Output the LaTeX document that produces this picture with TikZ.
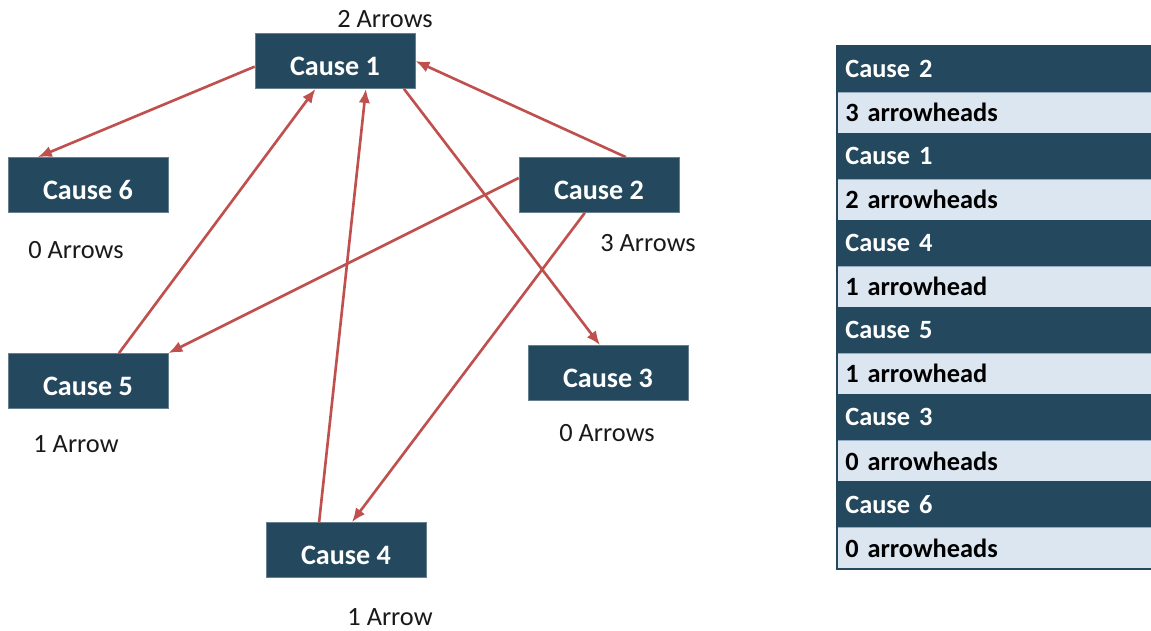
\documentclass[tikz,border=0pt]{standalone}
\usepackage{fontspec}
\setmainfont{Carlito}
\usetikzlibrary{arrows.meta}

\definecolor{boxblue}{RGB}{36,73,94}
\definecolor{rowlight}{RGB}{220,230,241}
\definecolor{rowline}{RGB}{150,172,196}
\definecolor{arrowred}{RGB}{192,80,77}

\tikzset{
    cause/.style={fill=boxblue, draw=boxblue!70!white, line width=0.4pt, text=white,
        minimum width=3.2cm, minimum height=1.1cm, text height=17pt, text depth=0pt,
        font=\fontsize{16}{19}\selectfont\bfseries},
    count/.style={font=\fontsize{15}{18}\selectfont, text=black!90},
    headrow/.style={anchor=north west, fill=boxblue, text=white, text width=6cm, align=left,
        inner xsep=0.16cm, minimum height=0.92cm, font=\fontsize{15}{18}\selectfont\bfseries},
    bodyrow/.style={anchor=north west, fill=rowlight, draw=rowline, line width=0.4pt, text=black,
        text width=6cm, align=left, inner xsep=0.16cm, minimum height=0.82cm,
        font=\fontsize{15}{18}\selectfont\bfseries},
    link/.style={-{Latex[length=8pt, width=6.5pt]}, draw=arrowred, line width=1.5pt}
}

\begin{document}
\begin{tikzpicture}[x=0.02cm, y=-0.02cm]
            \useasboundingbox (0,0) rectangle (1151,631);

            \node[cause] (c1) at (335, 61)  {Cause 1};
            \node[cause] (c6) at (88, 185)  {Cause 6};
            \node[cause] (c2) at (599, 185) {Cause 2};
            \node[cause] (c5) at (88, 381)  {Cause 5};
            \node[cause] (c3) at (608, 373) {Cause 3};
            \node[cause] (c4) at (346, 550) {Cause 4};

            \node[count] (n1) at (385, 19)  {2 Arrows};
            \node[count] (n6) at (76, 250)  {0 Arrows};
            \node[count] (n2) at (648, 243) {3 Arrows};
            \node[count] (n5) at (76, 444)  {1 Arrow};
            \node[count] (n3) at (607, 433) {0 Arrows};
            \node[count] (n4) at (390, 617) {1 Arrow};

            \draw[link] (c1.184) -- (c6.151);
            \draw[link] (c5.42)  -- (c1.235);
            \draw[link] (c4.134) -- (c1.318);
            \draw[link] (c2.46)  -- (c1.east);
            \draw[link] (c1.338) -- (c3.106);
            \draw[link] (c2.175) -- (c5.north east);
            \draw[link] (c2.243) -- (c4.78);

            % tally of arrowheads per cause
            \node[headrow] (t1) at (837, 46)  {Cause 2};
            \node[bodyrow] (t2) at (837, 92)  {3 arrowheads};
            \node[headrow] (t3) at (837, 133) {Cause 1};
            \node[bodyrow] (t4) at (837, 179) {2 arrowheads};
            \node[headrow] (t5) at (837, 220) {Cause 4};
            \node[bodyrow] (t6) at (837, 266) {1 arrowhead};
            \node[headrow] (t7) at (837, 307) {Cause 5};
            \node[bodyrow] (t8) at (837, 353) {1 arrowhead};
            \node[headrow] (t9) at (837, 394) {Cause 3};
            \node[bodyrow] (t10) at (837, 440) {0 arrowheads};
            \node[headrow] (t11) at (837, 481) {Cause 6};
            \node[bodyrow] (t12) at (837, 527) {0 arrowheads};
            \draw[boxblue, line width=1pt] (t1.north west) rectangle (t12.south east);
        \end{tikzpicture}
\end{document}
